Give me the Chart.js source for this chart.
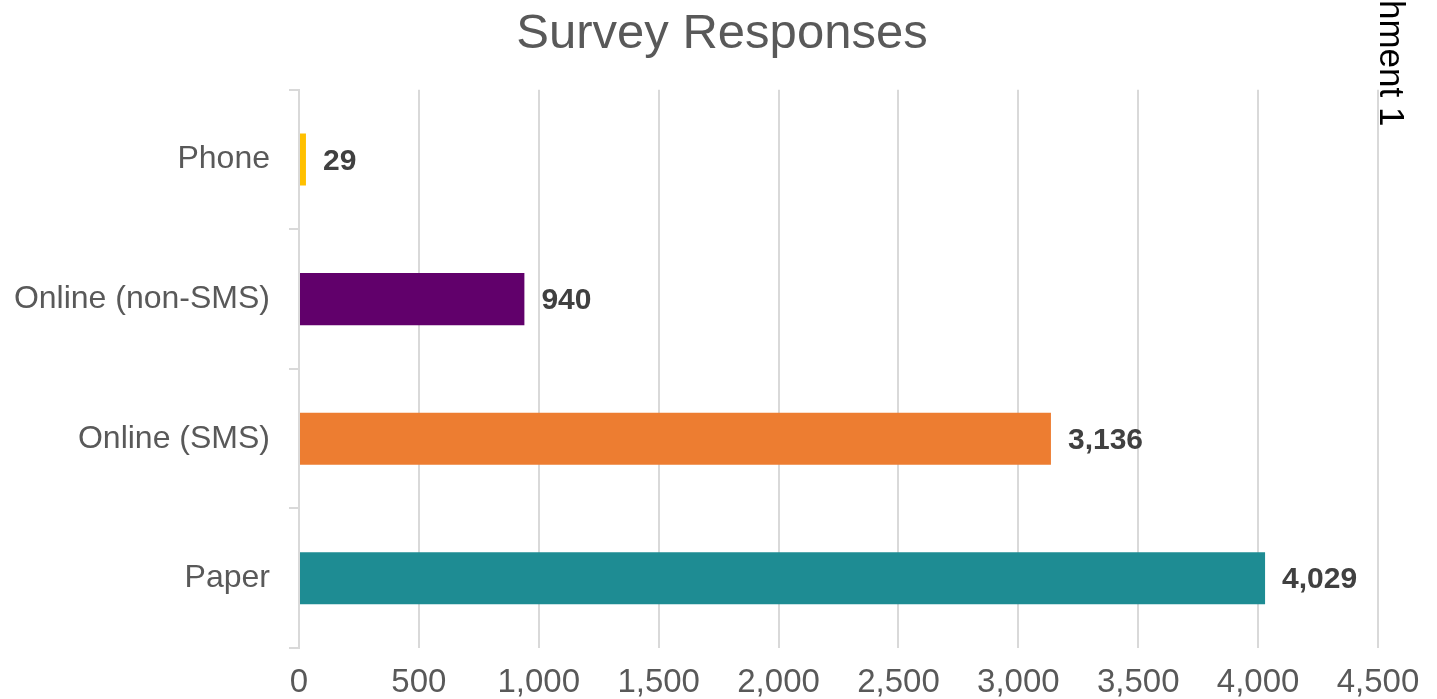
<!DOCTYPE html>
<html>
<head>
<meta charset="utf-8">
<script src="https://cdn.jsdelivr.net/npm/chart.js@4/dist/chart.umd.min.js"></script>
<style>
  html, body { margin: 0; padding: 0; background: #fff; }
  #wrap { width: 1437px; height: 699px; position: relative; }
</style>
</head>
<body>
<div id="wrap"><canvas id="chart"></canvas></div>
<script>
// ==== data ====
const categories = ['Phone', 'Online (non-SMS)', 'Online (SMS)', 'Paper'];
const responses = [29, 940, 3136, 4029];
const barColors = ['#FFC000', '#61006B', '#ED7D31', '#1E8C93'];
const xTicks = [0, 500, 1000, 1500, 2000, 2500, 3000, 3500, 4000, 4500];

const FONT = '"Liberation Sans", Arial, sans-serif';

// value labels next to each bar
const valueLabels = {
  id: 'valueLabels',
  afterDatasetsDraw(chart) {
    const ctx = chart.ctx;
    const meta = chart.getDatasetMeta(0);
    ctx.save();
    ctx.font = 'bold 30px ' + FONT;
    ctx.fillStyle = '#404040';
    ctx.textAlign = 'left';
    ctx.textBaseline = 'middle';
    meta.data.forEach((bar, i) => {
      ctx.fillText(responses[i].toLocaleString('en-US'), bar.x + 17, bar.y + 2);
    });
    ctx.restore();
  }
};

// title centred on the whole canvas, not the padded box
const centreTitle = {
  id: 'centreTitle',
  afterLayout(chart) {
    if (chart.titleBlock) {
      chart.titleBlock.left = 7;
      chart.titleBlock.right = chart.width;
    }
  }
};

// clipped side note at top right
const sideNote = {
  id: 'sideNote',
  afterDraw(chart) {
    const ctx = chart.ctx;
    ctx.save();
    ctx.translate(1380, 0);
    ctx.rotate(Math.PI / 2);
    ctx.font = '35px ' + FONT;
    ctx.fillStyle = '#000';
    ctx.textAlign = 'left';
    ctx.textBaseline = 'alphabetic';
    ctx.fillText('hment 1', 0, 0);
    ctx.restore();
  }
};

new Chart(document.getElementById('chart'), {
  type: 'bar',
  data: {
    labels: categories,
    datasets: [{
      data: responses,
      backgroundColor: barColors,
      borderWidth: 0,
      categoryPercentage: 1,
      barPercentage: 0.373
    }]
  },
  options: {
    indexAxis: 'y',
    responsive: true,
    maintainAspectRatio: false,
    animation: false,
    layout: { padding: { left: 0, right: 59, top: 0, bottom: 0 } },
    plugins: {
      legend: { display: false },
      tooltip: { enabled: false },
      title: {
        display: true,
        text: 'Survey Responses',
        color: '#595959',
        font: { family: FONT, size: 49, weight: 'normal' },
        padding: { top: 5, bottom: 26 }
      }
    },
    scales: {
      x: {
        min: 0,
        max: 4500,
        afterBuildTicks(scale) { scale.ticks = xTicks.map(v => ({ value: v })); },
        afterFit(scale) { scale.height = 51; },
        grid: { color: '#d9d9d9', lineWidth: 2, drawTicks: false },
        border: { display: false },
        ticks: {
          color: '#595959',
          font: { family: FONT, size: 33 },
          padding: 15,
          maxRotation: 0,
          callback: v => v.toLocaleString('en-US')
        }
      },
      y: {
        afterFit(scale) { scale.width = 299; },
        grid: { drawOnChartArea: false, drawTicks: true, tickLength: 10, color: '#d9d9d9', lineWidth: 2 },
        border: { display: true, color: '#d9d9d9', width: 2 },
        ticks: {
          color: '#595959',
          font: { family: FONT, size: 32 },
          padding: 19
        }
      }
    }
  },
  plugins: [valueLabels, centreTitle, sideNote]
});
</script>
</body>
</html>
